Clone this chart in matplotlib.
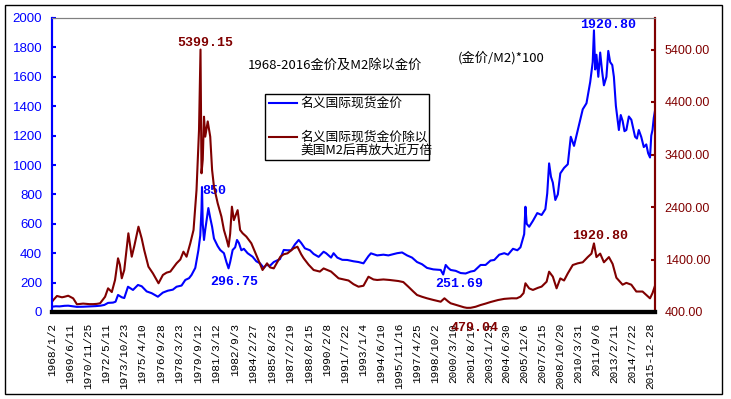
import matplotlib
matplotlib.use("Agg")
import matplotlib.pyplot as plt
from matplotlib.lines import Line2D
from matplotlib.patches import Rectangle
from datetime import date

plt.rcParams['font.family'] = ['Noto Sans CJK SC', 'DejaVu Sans']

# nominal gold price (left axis), decimal years
gold_t = [1968.0, 1968.3, 1968.6, 1969.0, 1969.3, 1969.7, 1970.0, 1970.5, 1971.0, 1971.5,
          1971.9, 1972.2, 1972.5, 1972.9, 1973.1, 1973.3, 1973.6, 1973.8, 1974.1, 1974.5,
          1974.9, 1975.2, 1975.6, 1976.0, 1976.5, 1976.9, 1977.3, 1977.7, 1978.0, 1978.4,
          1978.7, 1979.0, 1979.2, 1979.5, 1979.75, 1979.9, 1980.0, 1980.04, 1980.1, 1980.2,
          1980.3, 1980.45, 1980.55, 1980.7, 1980.85, 1981.0, 1981.3, 1981.5, 1981.8, 1982.0,
          1982.17, 1982.3, 1982.5, 1982.7, 1982.85, 1983.0, 1983.2, 1983.4, 1983.7, 1984.1,
          1984.4, 1984.7, 1985.0, 1985.2, 1985.5, 1985.8, 1986.3, 1986.6, 1986.9, 1987.2,
          1987.5, 1987.8, 1988.0, 1988.3, 1988.7, 1989.0, 1989.4, 1989.8, 1990.0, 1990.4,
          1990.6, 1990.9, 1991.3, 1991.7, 1992.2, 1992.6, 1993.0, 1993.4, 1993.6, 1994.1,
          1994.6, 1995.0, 1995.7, 1996.1, 1996.5, 1996.9, 1997.3, 1997.7, 1998.1, 1998.6,
          1999.2, 1999.4, 1999.6, 1999.8, 2000.0, 2000.4, 2000.8, 2001.2, 2001.6, 2001.9,
          2002.4, 2002.8, 2003.2, 2003.5, 2003.9, 2004.3, 2004.6, 2005.0, 2005.35, 2005.6,
          2005.9, 2006.0, 2006.1, 2006.3, 2006.6, 2006.95, 2007.3, 2007.6, 2007.75, 2007.9,
          2008.05, 2008.2, 2008.4, 2008.6, 2008.8, 2009.1, 2009.4, 2009.64, 2009.9, 2010.2,
          2010.6, 2010.9, 2011.2, 2011.4, 2011.5, 2011.6, 2011.7, 2011.85, 2012.0, 2012.15,
          2012.3, 2012.5, 2012.65, 2012.8, 2012.97, 2013.1, 2013.26, 2013.5, 2013.65, 2013.8,
          2013.95, 2014.1, 2014.3, 2014.5, 2014.65, 2014.8, 2014.95, 2015.1, 2015.3, 2015.5,
          2015.7, 2015.85, 2016.0, 2016.1, 2016.2, 2016.3, 2016.4]
gold_v = [36, 39, 38, 42, 43, 38, 35, 36, 38, 40,
          43, 48, 62, 64, 70, 116, 100, 95, 172, 150,
          184, 175, 140, 128, 104, 132, 145, 152, 172, 180,
          218, 230, 252, 300, 420, 520, 700, 850, 600, 490,
          560, 650, 707, 640, 580, 500, 448, 422, 400, 340,
          297, 340, 422, 440, 490, 470, 420, 430, 400, 376,
          345, 331, 300, 320, 315, 340, 360, 422, 420, 420,
          460, 490, 470, 433, 420, 395, 375, 410, 400, 370,
          400, 370, 355, 354, 345, 340, 331, 380, 399, 385,
          390, 385, 400, 405, 385, 370, 340, 325, 300, 290,
          286, 255, 320, 300, 286, 280, 265, 262, 275, 280,
          320, 320, 350, 354, 390, 400, 390, 430, 420, 440,
          530, 716, 600, 580, 620, 673, 660, 700, 807, 1011,
          920, 880, 762, 800, 943, 980, 1005, 1192, 1130, 1238,
          1379, 1420, 1565, 1700, 1916, 1650, 1750, 1600, 1765, 1640,
          1542, 1600, 1776, 1700, 1680, 1600, 1402, 1238, 1340, 1300,
          1230, 1238, 1330, 1308, 1250, 1192, 1180, 1238, 1190, 1122,
          1140, 1080, 1051, 1200, 1238, 1320, 1370]

# gold price / US M2, scaled (right axis)
ratio_t = [1968.0, 1968.15, 1968.4, 1968.8, 1969.0, 1969.3, 1969.7, 1970.0, 1970.5, 1971.0,
           1971.3, 1971.6, 1971.86, 1972.26, 1972.5, 1972.8, 1973.06, 1973.3, 1973.45, 1973.6,
           1973.8, 1974.13, 1974.4, 1974.6, 1974.94, 1975.2, 1975.4, 1975.74, 1976.1, 1976.55,
           1976.9, 1977.2, 1977.5, 1978.0, 1978.3, 1978.55, 1978.8, 1979.1, 1979.36, 1979.6,
           1979.8, 1979.92, 1980.0, 1980.1, 1980.2, 1980.3, 1980.5, 1980.7, 1980.85, 1981.0,
           1981.3, 1981.6, 1981.8, 1982.0, 1982.17, 1982.3, 1982.44, 1982.6, 1982.7, 1982.9,
           1983.1, 1983.3, 1983.6, 1984.0, 1984.45, 1984.9, 1985.26, 1985.5, 1985.8, 1986.33,
           1986.6, 1986.9, 1987.4, 1987.7, 1988.0, 1988.2, 1988.6, 1989.0, 1989.5, 1989.8,
           1990.1, 1990.4, 1991.0, 1991.4, 1991.8, 1992.2, 1992.6, 1993.0, 1993.4, 1993.8,
           1994.1, 1994.6, 1995.1, 1995.8, 1996.2, 1996.6, 1997.0, 1997.3, 1997.7, 1998.1,
           1998.6, 1999.2, 1999.5, 1999.8, 2000.0, 2000.5, 2001.06, 2001.3, 2001.6, 2002.0,
           2002.4, 2002.8, 2003.2, 2003.8, 2004.3, 2004.9, 2005.3, 2005.6, 2005.85, 2006.0,
           2006.3, 2006.6, 2007.0, 2007.3, 2007.7, 2007.9, 2008.2, 2008.5, 2008.8, 2009.1,
           2009.4, 2009.8, 2010.2, 2010.6, 2011.0, 2011.3, 2011.5, 2011.7, 2012.0, 2012.3,
           2012.7, 2013.0, 2013.3, 2013.8, 2014.1, 2014.5, 2014.9, 2015.4, 2016.0, 2016.2,
           2016.4]
ratio_v = [596, 640, 705, 680, 690, 710, 660, 547, 560, 550,
           550, 555, 566, 690, 851, 780, 1010, 1423, 1300, 1042,
           1200, 1899, 1453, 1650, 2025, 1800, 1581, 1263, 1136, 947,
           1105, 1150, 1170, 1328, 1400, 1549, 1453, 1709, 1962, 2724,
           3867, 5399, 3042, 3300, 4120, 3740, 4030, 3740, 3105, 2787,
           2470, 2216, 1962, 1800, 1644, 1890, 2406, 2150, 2216, 2340,
           1962, 1900, 1836, 1709, 1453, 1200, 1327, 1250, 1231, 1453,
           1500, 1517, 1613, 1644, 1500, 1423, 1300, 1200, 1170, 1230,
           1200, 1170, 1042, 1020, 1000, 930, 882, 900, 1072, 1020,
           1010, 1020, 1010, 990, 970, 882, 790, 724, 690, 661,
           630, 596, 661, 600, 566, 530, 490, 479, 480, 500,
           533, 560, 590, 628, 650, 661, 660, 692, 760, 947,
           850, 820, 860, 884, 977, 1168, 1073, 851, 1040, 1000,
           1135, 1295, 1327, 1347, 1446, 1512, 1707, 1446, 1512, 1347,
           1446, 1315, 1053, 920, 955, 920, 790, 790, 660, 760,
           900]

date_labels = ['1968/1/2', '1969/6/11', '1970/11/25', '1972/5/11', '1973/10/23', '1975/4/10',
               '1976/9/28', '1978/3/23', '1979/9/12', '1981/3/12', '1982/9/3', '1984/2/27',
               '1985/8/23', '1987/2/19', '1988/8/15', '1990/2/8', '1991/7/22', '1993/1/4',
               '1994/6/10', '1995/11/16', '1997/4/25', '1998/10/2', '2000/3/10', '2001/8/17',
               '2003/1/23', '2004/6/30', '2005/12/6', '2007/5/15', '2008/10/20', '2010/3/31',
               '2011/9/6', '2013/2/11', '2014/7/22', '2015-12-28']


def to_year(s):
    y, m, d = [int(p) for p in s.replace('-', '/').split('/')]
    return y + (date(y, m, d).timetuple().tm_yday - 1) / 365.25


tick_pos = [to_year(s) for s in date_labels]

BLUE = '#0000ff'
RED = '#800000'

fig = plt.figure(figsize=(7.31, 3.99), dpi=100)
ax = fig.add_axes([52 / 731, 1 - 312 / 399, 603 / 731, 294 / 399])
ax2 = ax.twinx()

ax.plot(gold_t, gold_v, color=BLUE, lw=1.5)
ax2.plot(ratio_t, ratio_v, color=RED, lw=1.5)

ax.set_xlim(1968.0, 2016.4)
ax.set_ylim(0, 2000)
ax2.set_ylim(400, 6000)
ax.set_yticks(range(0, 2001, 200))
ax2.set_yticks(range(400, 5401, 1000))
ax2.set_yticklabels(['%.2f' % v for v in range(400, 5401, 1000)])
ax.set_xticks(tick_pos)
ax.set_xticklabels(date_labels, rotation=90, family='Liberation Mono', fontsize=8)

ax.tick_params(axis='x', length=0, pad=8)
ax.tick_params(axis='y', direction='in', colors=BLUE, length=3, width=1.5, pad=7,
               labelsize=9.5)
ax2.tick_params(axis='y', direction='in', colors=RED, length=3, width=1.5, pad=7,
                labelsize=9)
for t in ax.get_yticklabels():
    t.set_family('Liberation Sans')
for t in ax2.get_yticklabels():
    t.set_family('Liberation Sans')

for a in (ax, ax2):
    a.spines['left'].set_color(BLUE)
    a.spines['left'].set_linewidth(1.5)
    a.spines['right'].set_color(RED)
    a.spines['right'].set_linewidth(1.5)
    a.spines['top'].set_color('#808080')
    a.spines['top'].set_linewidth(0.8)
    a.spines['bottom'].set_color('black')
    a.spines['bottom'].set_linewidth(3)

# value labels
mono = dict(family='Liberation Mono', fontweight='bold', fontsize=9.5, ha='center', va='center')
ax2.text(1980.34, 5530, '5399.15', color=RED, **mono)
ax.text(1981.0, 825, '850', color=BLUE, **mono)
ax.text(1982.59, 206, '296.75', color=BLUE, **mono)
ax.text(2000.68, 190, '251.69', color=BLUE, **mono)
ax2.text(2001.92, 95, '479.04', color=RED, **mono)
ax.text(2012.65, 1954, '1920.80', color=BLUE, **mono)
ax2.text(2012.0, 1848, '1920.80', color=RED, **mono)

ax.text(0.469, 0.840, '1968-2016金价及M2除以金价', transform=ax.transAxes,
        ha='center', va='center', fontsize=9.5)
ax.text(0.745, 0.864, '(金价/M2)*100', transform=ax.transAxes,
        ha='center', va='center', fontsize=9.5)

# legend box
W, H = 731, 399
fig.add_artist(Rectangle((265 / W, 1 - 160 / H), 164 / W, 66 / H, transform=fig.transFigure,
                         facecolor='white', edgecolor='black', lw=1, zorder=5))
fig.add_artist(Line2D([269 / W, 297 / W], [1 - 102.7 / H] * 2, color=BLUE, lw=1.5, zorder=6))
fig.add_artist(Line2D([269 / W, 297 / W], [1 - 136.7 / H] * 2, color=RED, lw=1.5, zorder=6))
fig.text(300 / W, 1 - 102.7 / H, '名义国际现货金价', ha='left', va='center', fontsize=9.2,
         zorder=6)
fig.text(300 / W, 1 - 143.5 / H, '名义国际现货金价除以\n美国M2后再放大近万倍', ha='left',
         va='center', fontsize=9.2, linespacing=1.05, zorder=6)

# outer frame
fig.add_artist(Rectangle((5 / W, 1 - 394 / H), 717 / W, 389 / H, transform=fig.transFigure,
                         facecolor='none', edgecolor='black', lw=1))

fig.savefig('out.png', dpi=100)
